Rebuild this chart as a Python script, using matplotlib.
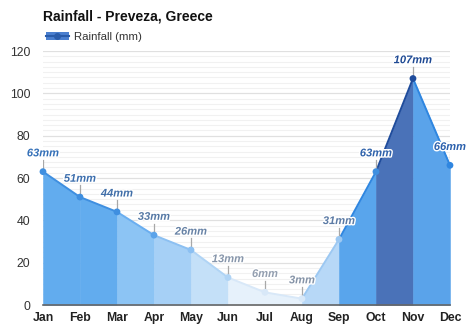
import matplotlib.pyplot as plt
import matplotlib.patheffects as pe
from matplotlib.lines import Line2D
from matplotlib.patches import Patch
from matplotlib.ticker import MultipleLocator

months = ['Jan', 'Feb', 'Mar', 'Apr', 'May', 'Jun', 'Jul', 'Aug', 'Sep', 'Oct', 'Nov', 'Dec']
rainfall = [63, 51, 44, 33, 26, 13, 6, 3, 31, 63, 107, 66]

# one fill / line colour per month-to-month segment
seg_fill = ['#62acee', '#62acee', '#8cc4f4', '#a6d0f6', '#c4e0f8', '#e6f1fb',
            '#e6f1fb', '#b7d8f7', '#59a5ec', '#4a72b8', '#5aa3ea']
seg_line = ['#3f8fe0', '#3f8fe0', '#6aaef0', '#8cc0f2', '#b0d4f5', '#d8e8f8',
            '#d8e8f8', '#9cc8f2', '#2f86e0', '#1f4c9c', '#2f86e0']
point_color = ['#3f8fe0', '#3f8fe0', '#3f8fe0', '#5aa3ea', '#8cc0f2', '#b0d4f5',
               '#d8e8f8', '#d8e8f8', '#9cc8f2', '#3f8fe0', '#1f4c9c', '#2f86e0']
label_color = ['#3470b8', '#3d6fae', '#416fa9', '#5679a5', '#6883a6', '#8796ab',
               '#949fb0', '#8593a7', '#5c7ba5', '#2f62ab', '#1f4a94', '#2c61ad']

plt.rcParams['font.family'] = ['Liberation Sans', 'DejaVu Sans']

fig = plt.figure(figsize=(4.74, 3.31), dpi=100)
ax = fig.add_axes([0.0907, 0.0785, 0.8586, 0.7674])

x = list(range(len(months)))
for i in range(len(months) - 1):
    ax.fill_between([x[i], x[i + 1]], [rainfall[i], rainfall[i + 1]], 0,
                    facecolor=seg_fill[i], edgecolor=seg_fill[i], lw=0.4, zorder=2)
    ax.plot([x[i], x[i + 1]], [rainfall[i], rainfall[i + 1]],
            color=seg_line[i], lw=1.4, zorder=3, solid_capstyle='round')

ax.scatter(x, rainfall, s=24, c=point_color, zorder=4, lw=0, clip_on=False)

for xi, v, c in zip(x, rainfall, label_color):
    ax.plot([xi, xi], [v + 1.5, v + 5.5], color='#a8a8a8', lw=0.9, zorder=3)
    ax.text(xi, v + 6.3, f'{v}mm', ha='center', va='bottom', fontsize=8,
            fontweight='bold', style='italic', color=c, zorder=5,
            path_effects=[pe.withStroke(linewidth=2, foreground='white')])

ax.set_xlim(0, 11)
ax.set_ylim(0, 120)
ax.set_xticks(x)
ax.set_xticklabels(months, fontweight='bold', fontsize=8.8, color='#222222')
ax.yaxis.set_major_locator(MultipleLocator(20))
ax.yaxis.set_minor_locator(MultipleLocator(2.5))
ax.tick_params(axis='y', length=0, pad=9, labelsize=8.8, labelcolor='#333333')
ax.tick_params(axis='x', length=0, pad=5)
ax.tick_params(which='minor', length=0)
ax.grid(axis='y', which='major', color='#e0e0e0', lw=0.9, zorder=0)
ax.grid(axis='y', which='minor', color='#f1f1f1', lw=0.8, zorder=0)
ax.set_axisbelow(True)
for side in ['top', 'right', 'left']:
    ax.spines[side].set_visible(False)
ax.spines['bottom'].set_color('#666666')
ax.spines['bottom'].set_linewidth(1.2)
ax.spines['bottom'].set_zorder(6)

fig.text(0.0907, 0.95, 'Rainfall - Preveza, Greece', fontsize=10,
         fontweight='bold', color='#111111', va='center')

handle = (Patch(facecolor='#4a7fcf', edgecolor='none'),
          Line2D([], [], color='#2a5caa', lw=1.5, marker='o', markersize=4))
fig.legend([handle], ['Rainfall (mm)'], loc='center left',
           bbox_to_anchor=(0.075, 0.888), frameon=False, fontsize=8.2,
           handlelength=2.0, handletextpad=0.5, labelcolor='#333333')

fig.savefig('out.png', dpi=100, facecolor='white')
